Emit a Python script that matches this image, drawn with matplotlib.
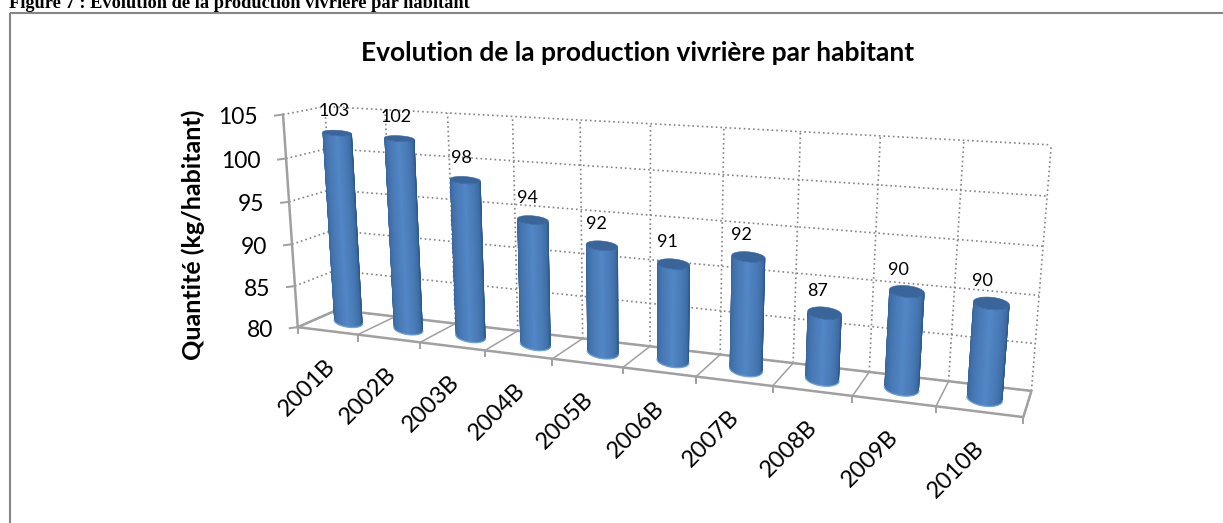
import numpy as np
import matplotlib
matplotlib.use("Agg")
import matplotlib.pyplot as plt
from matplotlib.collections import PolyCollection
from matplotlib.patches import Polygon, Rectangle

categories = ['2001B', '2002B', '2003B', '2004B', '2005B', '2006B', '2007B', '2008B', '2009B', '2010B']
values = [102.6, 102.4, 98.2, 94.3, 92.1, 90.8, 92.3, 87.1, 90.2, 89.8]
value_ticks = [80, 85, 90, 95, 100, 105]
y_title = 'Quantité (kg/habitant)'
chart_title = 'Evolution de la production vivrière par habitant'
caption = 'Figure 7 : Evolution de la production vivrière par habitant'

W, H = 1223, 523
fig = plt.figure(figsize=(W / 100, H / 100), dpi=100)
ax = fig.add_axes([0, 0, 1, 1])
ax.set_xlim(0, W)
ax.set_ylim(H, 0)
ax.axis('off')

# 3D -> screen projection calibrated on the corners of the chart box
N = len(categories)
vmin, vmax = value_ticks[0], value_ticks[-1]
world = [(0, 0, vmin), (N, 0, vmin), (0, 1, vmin), (N, 1, vmin),
         (0, 0, vmax), (0, 1, vmax), (N, 1, vmax)]
screen = [(300, 327), (1023, 418), (335, 310), (1032, 390),
          (281, 114), (327, 107), (1051, 145)]
A, b = [], []
for (cx, cd, cv), (sx, sy) in zip(world, screen):
    A.append([cx, cd, cv, 1, 0, 0, 0, 0, -sx * cx, -sx * cd, -sx * cv]); b.append(sx)
    A.append([0, 0, 0, 0, cx, cd, cv, 1, -sy * cx, -sy * cd, -sy * cv]); b.append(sy)
p = np.linalg.lstsq(np.array(A, float), np.array(b, float), rcond=None)[0]
P = np.append(p, 1).reshape(3, 4)


def proj(x, d, v):
    x, d, v = np.broadcast_arrays(np.asarray(x, float), np.asarray(d, float), np.asarray(v, float))
    h = np.stack([x, d, v, np.ones_like(x)])
    q = P @ h.reshape(4, -1)
    return np.column_stack([q[0] / q[2], q[1] / q[2]])


grid_c = '#858585'
axis_c = '#a0a0a0'
dots = (0, (1, 1.8))
for v in value_ticks:
    line = proj([0, 0, N], [0, 1, 1], [v, v, v])
    ax.plot(line[:, 0], line[:, 1], color=grid_c, lw=1.2, ls=dots, zorder=1)
for i in range(N + 1):
    line = proj([i, i], [1, 1], [vmin, vmax])
    ax.plot(line[:, 0], line[:, 1], color=grid_c, lw=1.2, ls=dots, zorder=1)

# floor and axes
floor = proj([0, N, N, 0, 0], [0, 0, 1, 1, 0], [vmin] * 5)
ax.plot(floor[:, 0], floor[:, 1], color=axis_c, lw=1.8, zorder=2)
for i in range(N + 1):
    seg = proj([i, i], [0, 1], [vmin, vmin])
    ax.plot(seg[:, 0], seg[:, 1], color=axis_c, lw=1.1, zorder=2)
    ax.plot([seg[0, 0], seg[0, 0]], [seg[0, 1], seg[0, 1] + 6], color=axis_c, lw=1.4, zorder=2)
yaxis = proj([0, 0], [0, 0], [vmin, vmax])
ax.plot(yaxis[:, 0], yaxis[:, 1], color=axis_c, lw=1.8, zorder=2)
for v in value_ticks:
    t = proj(0, 0, v)[0]
    ax.plot([t[0] - 8, t[0]], [t[1] + 1, t[1]], color=axis_c, lw=1.4, zorder=2)
    ax.text(t[0] - 25, t[1] + 3, str(v), ha='right', va='center',
            fontsize=16.5, family='Lato', color='black', zorder=6)

# cylinders
light = np.array([0x52, 0x86, 0xC6]) / 255
dark = np.array([0x2B, 0x55, 0x85]) / 255
depth = 0.5
dz = 0.30


def ellipse(cx, val, angles, radius):
    c = proj(cx, depth, val)[0]
    a = (proj(cx + radius, depth, val)[0] - proj(cx - radius, depth, val)[0]) / 2
    bk = abs(proj(cx, depth + dz, val)[0, 1] - proj(cx, depth - dz, val)[0, 1]) / 2
    return np.column_stack([c[0] + a[0] * np.cos(angles),
                            c[1] + a[1] * np.cos(angles) + bk * np.sin(angles)])


theta = np.linspace(np.pi, 0, 61)
for i in range(N - 1, -1, -1):
    val = values[i]
    cx = i + 0.52 - 0.002 * i
    radius = 0.24 - 0.0035 * i
    bottom = ellipse(cx, vmin, theta, radius)
    top = ellipse(cx, val, theta, radius)
    polys, cols = [], []
    for k in range(len(theta) - 1):
        polys.append([bottom[k], bottom[k + 1], top[k + 1], top[k]])
        t = (k + 0.5) / (len(theta) - 1)
        w = np.clip(1 - abs(t - 0.5) * 2.0, 0, 1) ** 0.6
        cols.append(dark * (1 - w) + light * w)
    z = 3 + (N - i) * 0.01
    shell = PolyCollection(polys, facecolors=cols, edgecolors=cols, linewidths=0.8, zorder=z)
    ax.add_collection(shell)
    outline = Polygon(np.vstack([bottom, top[::-1]]), closed=True, transform=ax.transData)
    shell.set_clip_path(outline)
    ring_t = np.linspace(0, 2 * np.pi, 61)
    ax.add_patch(Polygon(ellipse(cx, val, ring_t, radius), closed=True, fc='#39659A', ec='#39659A',
                         lw=0.4, zorder=z + 0.001))
    ax.plot(bottom[:, 0], bottom[:, 1], color='#6FA3DE', lw=0.9, zorder=z + 0.001)
    lab = proj(cx, depth, val)[0]
    ax.text(lab[0] - 3 - 0.65 * i, lab[1] - 22, str(round(val)), ha='center', va='center',
            fontsize=13, family='Lato', color='black', zorder=7)

# category labels
for i, c in enumerate(categories):
    pos = proj(i + 0.78, 0, vmin)[0]
    ax.text(pos[0] - 20 - 1.2 * i, pos[1] + 23, c, rotation=45, rotation_mode='anchor', ha='right', va='top',
            fontsize=17, family='Lato', color='black', zorder=6)

ax.text(638, 53, chart_title, ha='center', va='center', fontsize=19, fontweight='bold',
        family='Lato', color='black')
ax.text(193, 235, y_title, rotation=90, ha='center', va='center', fontsize=18, fontweight='bold',
        family='Lato', color='black')
ax.text(9, 3, caption, ha='left', va='center', fontsize=13.2, fontweight='bold',
        family='Liberation Serif', color='black', clip_on=True)
ax.add_patch(Rectangle((10, 12.5), 1400, 700, fc='none', ec='#868686', lw=1.5, zorder=0.5))
fig.savefig('out.png', dpi=100)
